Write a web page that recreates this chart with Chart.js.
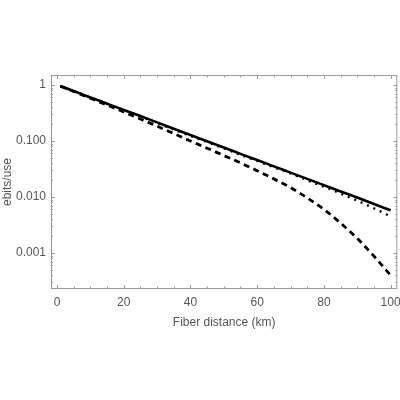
<!DOCTYPE html>
<html>
<head>
<meta charset="utf-8">
<style>
html,body{margin:0;padding:0;background:#fff;}
#wrap{width:400px;height:400px;}
</style>
<script src="https://cdn.jsdelivr.net/npm/chart.js@4/dist/chart.umd.min.js"></script>
</head>
<body>
<div id="wrap"><canvas id="c" width="400" height="400"></canvas></div>
<script>
const distances = [1,5,10,15,20,25,30,35,40,45,50,55,60,65,70,75,80,85,90,95,100];
const solidValues = [0.955,0.78,0.60,0.465,0.36,0.28,0.215,0.166,0.128,0.099,0.0765,0.059,0.0457,0.0353,0.0273,0.0211,0.0163,0.0126,0.0098,0.0075,0.0058];
const dottedValues = [0.955,0.78,0.60,0.46,0.355,0.275,0.21,0.161,0.124,0.096,0.074,0.057,0.044,0.034,0.0265,0.020,0.0153,0.0116,0.0086,0.0063,0.0045];
const dashedValues = [0.955,0.767,0.579,0.44,0.331,0.247,0.184,0.136,0.100,0.0745,0.0552,0.0407,0.0295,0.0211,0.0148,0.00966,0.00603,0.00343,0.00182,0.00088,0.00040];
const yTickValues = [0.001,0.01,0.1,1];
const yTickLabels = ["0.001","0.010","0.100","1"];
const xTickValues = [0,20,40,60,80,100];
const xTitle = "Fiber distance (km)";
const yTitle = "ebits/use";

const toPts = (vals) => distances.map((d,i)=>({x:d,y:vals[i]}));
const textColor = '#555';
const frameColor = '#9a9a9a';
const fontFam = 'Liberation Sans, Arial, sans-serif';

const framePlugin = {
  id:'frameTicks',
  afterDraw(chart){
    const ctx = chart.ctx, a = chart.chartArea;
    const xs = chart.scales.x, ys = chart.scales.y;
    ctx.save();
    ctx.strokeStyle = frameColor;
    ctx.lineWidth = 1;
    ctx.strokeRect(a.left+0.5, a.top+0.5, a.right-a.left-1, a.bottom-a.top-1);
    ctx.beginPath();
    for(let v=0; v<=100; v+=5){
      const px = Math.round(xs.getPixelForValue(v))+0.5;
      const len = (v%20===0)?4:2.5;
      ctx.moveTo(px,a.bottom); ctx.lineTo(px,a.bottom-len);
      ctx.moveTo(px,a.top); ctx.lineTo(px,a.top+len);
    }
    for(let e=-4; e<=0; e++){
      for(let m=1; m<=9; m++){
        const v = m*Math.pow(10,e);
        if(v<ys.min || v>ys.max) continue;
        const py = Math.round(ys.getPixelForValue(v))+0.5;
        const len = (m===1)?4:2;
        ctx.moveTo(a.left,py); ctx.lineTo(a.left+len,py);
        ctx.moveTo(a.right,py); ctx.lineTo(a.right-len,py);
      }
    }
    ctx.stroke();
    ctx.restore();
  }
};

new Chart(document.getElementById('c'), {
  type:'line',
  data:{
    datasets:[
      {label:'solid', data:toPts(solidValues), borderColor:'#000', borderWidth:2.6, pointRadius:0, cubicInterpolationMode:'monotone', fill:false},
      {label:'dotted', data:toPts(dottedValues), borderColor:'#000', borderWidth:2.4, borderDash:[2,5], pointRadius:0, cubicInterpolationMode:'monotone', fill:false},
      {label:'dashed', data:toPts(dashedValues), borderColor:'#000', borderWidth:2.8, borderDash:[6,4.5], pointRadius:0, cubicInterpolationMode:'monotone', fill:false}
    ]
  },
  options:{
    responsive:false,
    animation:false,
    devicePixelRatio:1,
    layout:{padding:{top:75,right:2.7,bottom:70,left:0}},
    plugins:{legend:{display:false},tooltip:{enabled:false}},
    scales:{
      x:{
        type:'linear', min:-1.8, max:102,
        afterBuildTicks(s){ s.ticks = xTickValues.map(v=>({value:v})); },
        afterFit(s){ s.height = 41; s.paddingRight = 0; s.paddingLeft = 0; },
        grid:{display:false, drawTicks:false},
        border:{display:false},
        ticks:{color:textColor, font:{family:fontFam, size:12}, padding:6, maxRotation:0},
        title:{display:true, text:xTitle, color:textColor, font:{family:fontFam, size:12}, padding:{top:5,bottom:0}}
      },
      y:{
        type:'logarithmic', min:2.28e-4, max:1.51,
        afterBuildTicks(s){ s.ticks = yTickValues.map(v=>({value:v, major:true})); },
        afterFit(s){ s.width = 51; s.paddingTop = 0; s.paddingBottom = 0; },
        grid:{display:false, drawTicks:false},
        border:{display:false},
        ticks:{color:textColor, font:{family:fontFam, size:12}, padding:5,
          callback(v){ const i = yTickValues.findIndex(t=>Math.abs(t-v)/t<1e-6); return i>=0 ? yTickLabels[i] : ''; }},
        title:{display:true, text:yTitle, color:textColor, font:{family:fontFam, size:12}, padding:{top:0,bottom:0}}
      }
    }
  },
  plugins:[framePlugin]
});
</script>
</body>
</html>
